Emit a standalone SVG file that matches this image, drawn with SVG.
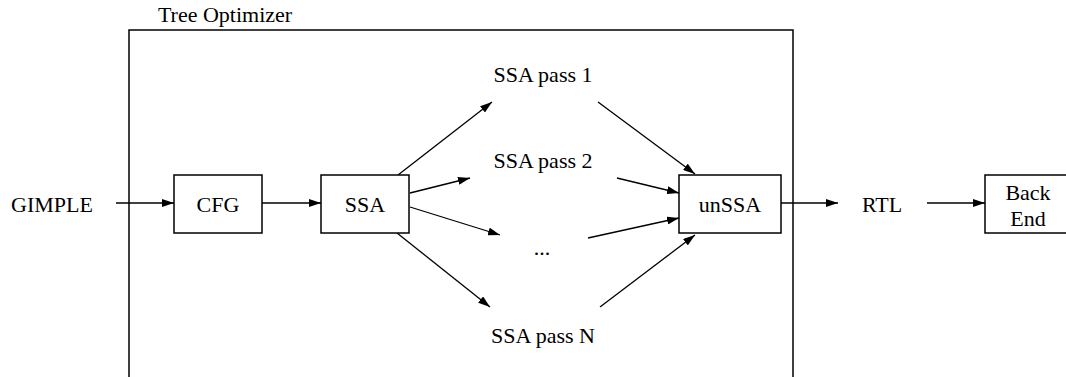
<svg xmlns="http://www.w3.org/2000/svg" width="1066" height="377" viewBox="0 0 1066 377">
<style>
text{font-family:"Liberation Serif","Times New Roman",serif;font-size:22px;fill:#000;text-anchor:middle}
.box{fill:#fff;stroke:#000;stroke-width:1.5}
.c{stroke:#000;stroke-width:1.3;fill:none;marker-end:url(#ah)}
</style>
<defs>
<marker id="ah" viewBox="0 0 12 8" refX="12" refY="4" markerWidth="12" markerHeight="8" markerUnits="userSpaceOnUse" orient="auto">
<path d="M0,0 L12,4 L0,8 Z" fill="#000"/>
</marker>
</defs>
<g id="tree-optimizer">
<rect x="129" y="30" width="664" height="360" fill="none" stroke="#000" stroke-width="1.5"/>
<text x="225" y="22">Tree Optimizer</text>
</g>
<g id="connectors">
<line class="c" x1="116" y1="203" x2="174" y2="203"/>
<line class="c" x1="262" y1="203" x2="321" y2="203"/>
<line class="c" x1="398" y1="175" x2="492" y2="102"/>
<line class="c" x1="410" y1="193" x2="470" y2="178"/>
<line class="c" x1="410" y1="207" x2="500" y2="235"/>
<line class="c" x1="397" y1="233" x2="490" y2="307"/>
<line class="c" x1="598" y1="102" x2="695" y2="174"/>
<line class="c" x1="617" y1="178" x2="679" y2="193"/>
<line class="c" x1="588" y1="238" x2="679" y2="218"/>
<line class="c" x1="600" y1="307" x2="695" y2="235"/>
<line class="c" x1="781" y1="203" x2="838" y2="203"/>
<line class="c" x1="927" y1="203" x2="985" y2="203"/>
</g>
<g id="gimple"><text x="52" y="212">GIMPLE</text></g>
<g id="cfg"><rect class="box" x="174" y="175" width="88" height="58"/><text x="218" y="212">CFG</text></g>
<g id="ssa"><rect class="box" x="321" y="175" width="88" height="58"/><text x="365" y="212">SSA</text></g>
<g id="pass1"><text x="543" y="82">SSA pass 1</text></g>
<g id="pass2"><text x="543" y="168">SSA pass 2</text></g>
<g id="dots"><text x="542" y="255">...</text></g>
<g id="passN"><text x="543" y="343">SSA pass N</text></g>
<g id="unssa"><rect class="box" x="679" y="175" width="102" height="58"/><text x="730" y="212">unSSA</text></g>
<g id="rtl"><text x="882" y="212">RTL</text></g>
<g id="backend"><rect class="box" x="985" y="175" width="88" height="58"/><text x="1028" y="200">Back</text><text x="1028" y="226">End</text></g>
</svg>
